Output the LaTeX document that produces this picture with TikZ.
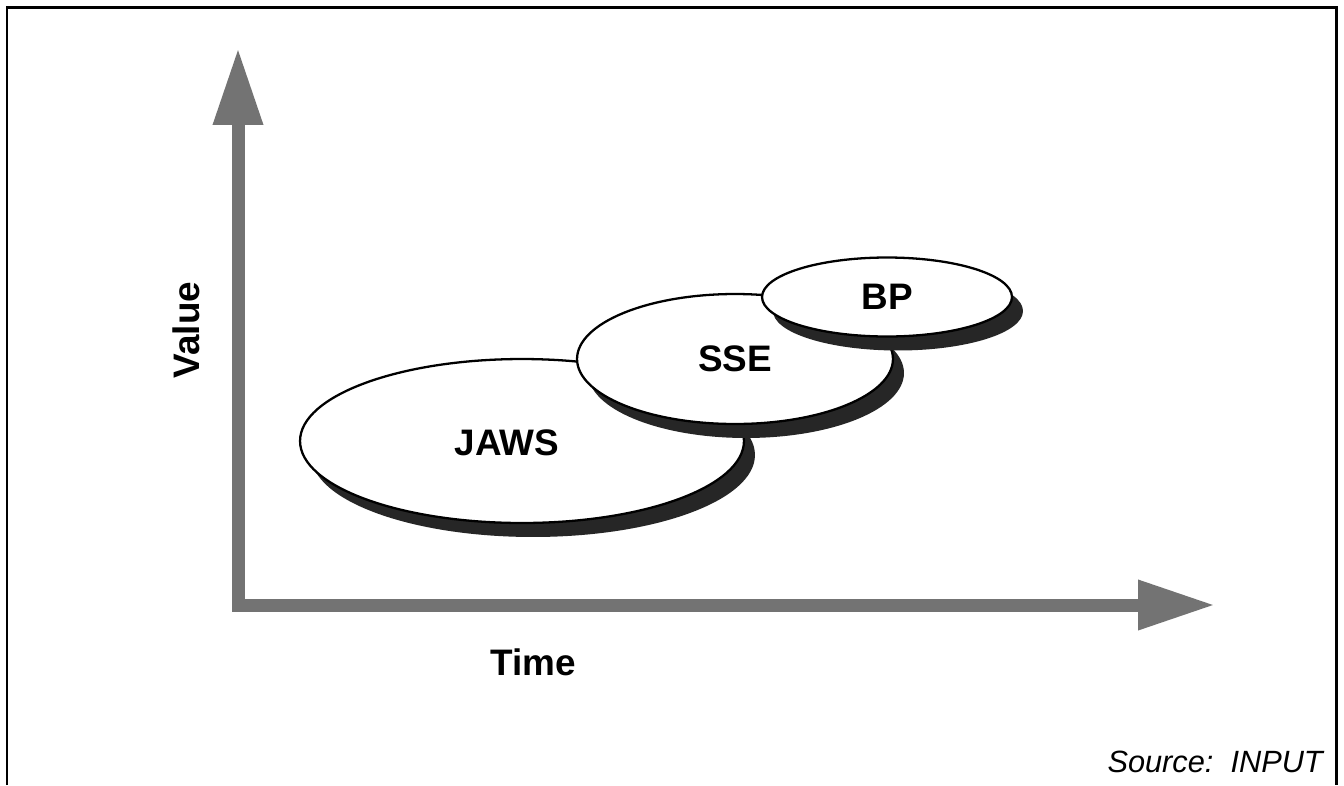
\documentclass[tikz,border=0pt]{standalone}
\usepackage{fontspec}
\setmainfont{Liberation Sans}
\usetikzlibrary{shapes.geometric,shadows,arrows.meta}

\begin{document}
\begin{tikzpicture}[x=0.02cm, y=-0.02cm,
  blob/.style={ellipse, draw, line width=1.3pt, fill=white, inner sep=0pt,
    drop shadow={shadow xshift=0.22cm, shadow yshift=-0.28cm, fill=black!85, opacity=1}},
  tag/.style={font=\fontsize{21}{24}\selectfont\bfseries},
  axis/.style={draw=black!55, line width=0.26cm,
    {Triangle[length=1.54cm,width=0.94cm]}-{Triangle[length=1.54cm,width=0.94cm]}}]
  \fill[white] (0,0) rectangle (1344,785);
  \useasboundingbox (0,0) rectangle (1344,785);
  \draw[line width=0.06cm] (7,785) -- (7,7) -- (1336,7) -- (1336,785);

  \coordinate (origo) at (238,605);
  \coordinate (vtip) at (238,48);
  \coordinate (htip) at (1215,605);
  \draw[axis] (vtip) -- (origo) -- (htip);

  \node[blob, minimum width=8.88cm, minimum height=3.28cm] (jaws) at (522,441) {};
  \node[blob, minimum width=6.32cm, minimum height=2.6cm] (sse) at (735,359) {};
  \node[blob, minimum width=5.0cm, minimum height=1.58cm] (bp) at (887,297) {};

  \node[tag] (jawstag) at (507,443) {JAWS};
  \node[tag] (ssetag) at (sse) {SSE};
  \node[tag] (bptag) at (bp) {BP};

  \node[tag, rotate=90] (value) at (186,330) {Value};
  \node[tag] (time) at (533,662) {Time};
  \node[font=\fontsize{17.5}{20}\selectfont\itshape, anchor=east] (source) at (1329,762) {Source:\ \ INPUT};
\end{tikzpicture}
\end{document}
